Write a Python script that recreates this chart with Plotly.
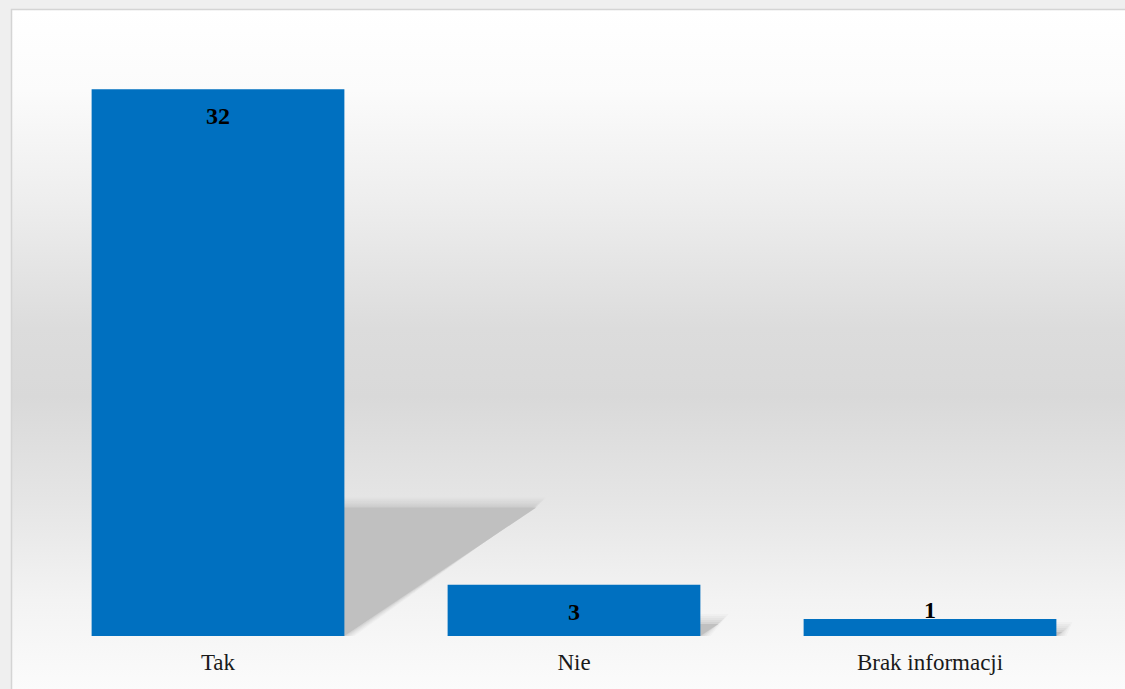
import base64
import plotly.graph_objects as go

categories = ["Tak", "Nie", "Brak informacji"]
values = [32, 3, 1]

W, H = 1125, 689
ML, MR, MT, MB = 40, 17, 38, 53
PW, PH = W - ML - MR, H - MT - MB
YMAX = 35
BAR_W = 0.71
BLUE = "#0070C0"
FONT = "Liberation Serif"

ppu_y = PH / YMAX
ppu_x = PW / len(categories)

# background: gradient panel with thin border (decorative)
svg = f'''<svg xmlns="http://www.w3.org/2000/svg" width="{W}" height="{H}" viewBox="0 0 {W} {H}" preserveAspectRatio="none">
<defs><linearGradient id="g" gradientUnits="userSpaceOnUse" x1="0" y1="9" x2="0" y2="{H}">
<stop offset="0" stop-color="#ffffff"/>
<stop offset="0.12" stop-color="#fbfbfb"/>
<stop offset="0.28" stop-color="#eeeeee"/>
<stop offset="0.47" stop-color="#dcdcdc"/>
<stop offset="0.57" stop-color="#d9d9d9"/>
<stop offset="0.72" stop-color="#e5e5e5"/>
<stop offset="0.87" stop-color="#f3f3f3"/>
<stop offset="1" stop-color="#fbfbfb"/>
</linearGradient></defs>
<rect width="{W}" height="{H}" fill="#efefef"/>
<rect x="11.5" y="9.5" width="{W}" height="{H + 20}" fill="url(#g)" stroke="#d4d4d4" stroke-width="1.5"/>
</svg>'''
src = "data:image/svg+xml;base64," + base64.b64encode(svg.encode()).decode()

fig = go.Figure()
fig.add_trace(go.Bar(
    x=list(range(len(categories))), y=values, width=BAR_W,
    marker=dict(color=BLUE, line=dict(width=0)),
    hoverinfo="skip",
))

shapes = []
for i, v in enumerate(values):
    x0, x1 = i - BAR_W / 2, i + BAR_W / 2
    h = v * 0.235
    s = 0.351 * v * ppu_y / ppu_x
    layers = [(10, 0.10), (8, 0.12), (6, 0.15), (4, 0.2), (2, 0.3), (0, 1.0)]
    for e, op in layers:
        ex, ey = e / ppu_x, e / ppu_y
        path = (f"M {x0},0 L {x1 + ex},0 L {x1 + s + ex},{h + ey} "
                f"L {x0 + s},{h + ey} Z")
        shapes.append(dict(type="path", path=path, xref="x", yref="y",
                           fillcolor="#c0c0c0", opacity=op, line=dict(width=0),
                           layer="below"))

annotations = []
for i, v in enumerate(values):
    inside = v * ppu_y > 40
    annotations.append(dict(
        x=i, y=v, xref="x", yref="y", text=str(v), showarrow=False,
        yanchor="middle", yshift=-27 if inside else 9,
        font=dict(family=FONT, size=24, color="#000000", weight="bold"),
    ))

fig.update_layout(
    width=W, height=H,
    margin=dict(l=ML, r=MR, t=MT, b=MB),
    paper_bgcolor="#f7f7f7",
    plot_bgcolor="rgba(0,0,0,0)",
    showlegend=False,
    images=[dict(source=src, xref="paper", yref="paper",
                 x=-ML / PW, y=1 + MT / PH, sizex=W / PW, sizey=H / PH,
                 xanchor="left", yanchor="top", sizing="stretch", layer="below")],
    shapes=shapes,
    annotations=annotations,
    xaxis=dict(range=[-0.5, len(categories) - 0.5], tickvals=list(range(len(categories))),
               ticktext=categories, showgrid=False, zeroline=False, showline=False,
               ticks="", ticklabelstandoff=10,
               tickfont=dict(family=FONT, size=23, color="#1a1a1a")),
    yaxis=dict(range=[0, YMAX], visible=False, showgrid=False),
)

fig.write_html(
    "out.html",
    config={"displayModeBar": False},
    post_script="document.body.style.margin='0';"
                "document.body.style.background='#f7f7f7';"
                "document.body.style.overflow='hidden';"
                "document.documentElement.style.overflow='hidden';",
)
